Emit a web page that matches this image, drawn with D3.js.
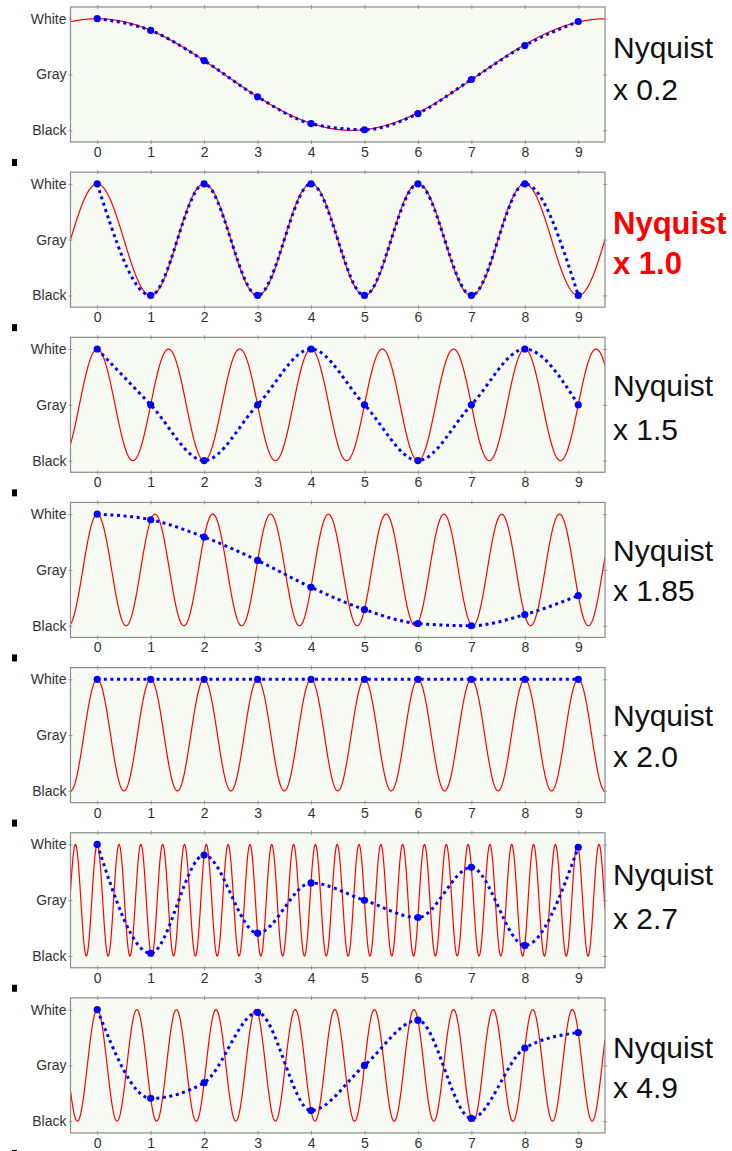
<!DOCTYPE html>
<html>
<head>
<meta charset="utf-8">
<script src="https://cdn.jsdelivr.net/npm/d3@7"></script>
<style>
  body { margin: 0; background: #fff; }
  text { font-family: "Liberation Sans", Arial, sans-serif; }
</style>
</head>
<body>
<div id="vis"></div>
<script>
// sample positions and axis labels
var samples = [0, 1, 2, 3, 4, 5, 6, 7, 8, 9];
var levelNames = ["Black", "Gray", "White"];
var levelValues = [-1, 0, 1];

// right-hand labels, one per panel
var factors = ["0.2", "1.0", "1.5", "1.85", "2.0", "2.7", "4.9"];

// frequency of the red wave, in cycles per sample (read from the peaks)
var waveFreq = [0.105, 0.5, 0.75, 0.925, 1.0, 2.45, 1.35];

// sampled brightness of each panel (blue dots), -1 black .. 1 white
var sampled0 = [1, 0.79, 0.25, -0.4, -0.88, -0.99, -0.7, -0.09, 0.52, 0.95];
var sampled1 = [1, -1, 1, -1, 1, -1, 1, -1, 1, -1];
var sampled2 = [1, 0, -1, 0, 1, 0, -1, 0, 1, 0];
var sampled3 = [1, 0.9, 0.59, 0.17, -0.31, -0.71, -0.96, -1, -0.8, -0.46];
var sampled4 = [1, 1, 1, 1, 1, 1, 1, 1, 1, 1];
var sampled5 = [1, -0.95, 0.81, -0.59, 0.31, 0, -0.31, 0.59, -0.81, 0.95];
var sampled6 = [1, -0.59, -0.31, 0.95, -0.81, 0, 0.81, -0.95, 0.31, 0.59];
var sampledAll = [sampled0, sampled1, sampled2, sampled3, sampled4, sampled5, sampled6];

//Width and height
var w = 732;
var h = 1151;
var ph = 135;
var label1 = [51, 62, 59, 59, 58, 52, 60];
var label2 = [93, 102, 103, 99, 99, 96, 100];

var svg = d3.select("#vis")
    .append("svg")
    .attr("width", w)
    .attr("height", h);

var xScale = d3.scaleLinear()
    .domain([-0.5, 9.5])
    .range([70.5, 605]);

var yScale = d3.scaleLinear()
    .domain([-1.21, 1.21])
    .range([ph, 0]);

var redLine = d3.line()
    .x(function(d) { return xScale(d[0]); })
    .y(function(d) { return yScale(d[1]); });

var blueLine = d3.line()
    .curve(d3.curveMonotoneX)
    .x(function(d, i) { return xScale(samples[i]); })
    .y(function(d) { return yScale(d); });

sampledAll.forEach(function(vals, p) {
    var top = 7 + p * 165.15;
    var g = svg.append("g").attr("transform", "translate(0," + top + ")");

    // plot background
    g.append("rect")
        .attr("x", xScale(-0.5))
        .attr("y", 0)
        .attr("width", xScale(9.5) - xScale(-0.5))
        .attr("height", ph)
        .attr("fill", "#f8faf4");

    // clip the wave to the box
    g.append("clipPath").attr("id", "clip" + p)
        .append("rect")
        .attr("x", xScale(-0.5))
        .attr("y", 0)
        .attr("width", xScale(9.5) - xScale(-0.5))
        .attr("height", ph);

    // red wave
    var f = waveFreq[p];
    var pts = d3.range(0, 1201).map(function(k) {
        var x = -0.5 + k * 10 / 1200;
        return [x, Math.cos(2 * Math.PI * f * x)];
    });
    g.append("path")
        .attr("d", redLine(pts))
        .attr("clip-path", "url(#clip" + p + ")")
        .attr("fill", "none")
        .attr("stroke", "#ff0000")
        .attr("stroke-width", 1.2);

    // blue dotted line through samples
    g.append("path")
        .attr("d", blueLine(vals))
        .attr("fill", "none")
        .attr("stroke", "#0000ff")
        .attr("stroke-width", 3)
        .attr("stroke-dasharray", "3,3.6");

    g.selectAll("circle")
        .data(vals)
        .enter()
        .append("circle")
        .attr("cx", function(d, i) { return xScale(samples[i]); })
        .attr("cy", function(d) { return yScale(d); })
        .attr("r", 3.6)
        .attr("fill", "#0000ff");

    // axes, MATLAB style ticks on all four sides
    g.append("g")
        .attr("transform", "translate(0," + ph + ")")
        .call(d3.axisBottom(xScale).tickValues(samples).tickSizeInner(-4).tickSizeOuter(0).tickPadding(5))
        .call(function(a) {
            a.select(".domain").remove();
            a.selectAll("line").attr("stroke", "#999").attr("transform", "translate(0,2)");
            a.selectAll("text").attr("font-size", "14px").attr("fill", "#333");
        });
    g.append("g")
        .call(d3.axisTop(xScale).tickValues(samples).tickSizeInner(-4).tickSizeOuter(0).tickFormat(""))
        .call(function(a) {
            a.select(".domain").remove();
            a.selectAll("line").attr("stroke", "#999").attr("transform", "translate(0,-2)");
        });
    g.append("g")
        .attr("transform", "translate(" + xScale(-0.5) + ",0)")
        .call(d3.axisLeft(yScale).tickValues(levelValues)
            .tickFormat(function(d, i) { return levelNames[i]; })
            .tickSizeInner(-4).tickSizeOuter(0).tickPadding(4))
        .call(function(a) {
            a.select(".domain").remove();
            a.selectAll("line").attr("stroke", "#999").attr("transform", "translate(-2,0)");
            a.selectAll("text").attr("font-size", "14px").attr("fill", "#333");
        });
    g.append("g")
        .attr("transform", "translate(" + xScale(9.5) + ",0)")
        .call(d3.axisRight(yScale).tickValues(levelValues).tickSizeInner(-4).tickSizeOuter(0).tickFormat(""))
        .call(function(a) {
            a.select(".domain").remove();
            a.selectAll("line").attr("stroke", "#999").attr("transform", "translate(2,0)");
        });

    // frame
    g.append("rect")
        .attr("x", xScale(-0.5))
        .attr("y", 0)
        .attr("width", xScale(9.5) - xScale(-0.5))
        .attr("height", ph)
        .attr("fill", "none")
        .attr("stroke", "#8c8c8c")
        .attr("stroke-width", 1.2);

    // label on the right
    var hot = factors[p] === "1.0";
    var lab = g.append("text")
        .attr("x", 613)
        .attr("font-size", hot ? "31px" : "30px")
        .attr("font-weight", hot ? "bold" : "normal")
        .attr("fill", hot ? "#ff0000" : "#111");
    lab.append("tspan").attr("x", 613).attr("y", label1[p]).text("Nyquist");
    lab.append("tspan").attr("x", 613).attr("y", label2[p]).text("x " + factors[p]);

    // little black marker below each panel
    g.append("rect")
        .attr("x", 12)
        .attr("y", 152)
        .attr("width", 5)
        .attr("height", 7)
        .attr("fill", "#000");
});
</script>
</body>
</html>
